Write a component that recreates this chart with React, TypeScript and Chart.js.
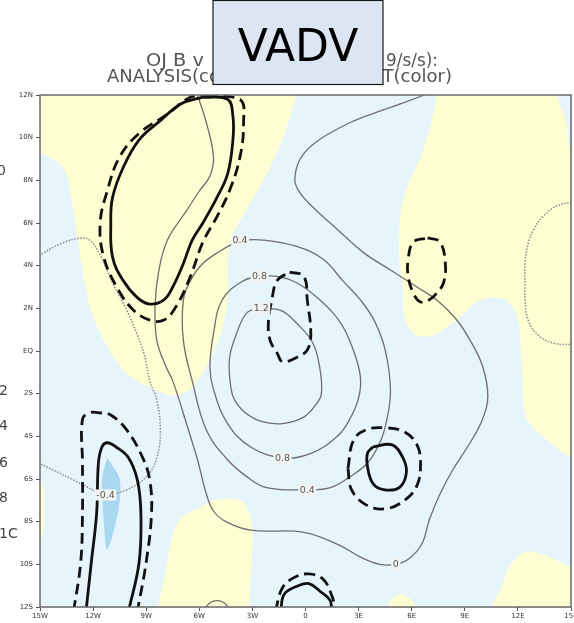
import React, { useEffect, useRef } from "react";
import { Chart, registerables } from "chart.js";
Chart.register(...registerables);

// ---------- axes ----------
const lonTicks = [-15, -12, -9, -6, -3, 0, 3, 6, 9, 12, 15];
const lonTickLabels = ["15W", "12W", "9W", "6W", "3W", "0", "3E", "6E", "9E", "12E", "15E"];
const latTicks = [-12, -10, -8, -6, -4, -2, 0, 2, 4, 6, 8, 10, 12];
const latTickLabels = ["12S", "10S", "8S", "6S", "4S", "2S", "EQ", "2N", "4N", "6N", "8N", "10N", "12N"];

// ---------- increment shading (lon, lat) ----------
const yellowNW = [[-15.5, 12.5], [-0.3, 12.5], [-0.5, 12], [-1.3, 9.9], [-2.2, 8.3], [-3.0, 7.1], [-3.7, 6.1], [-4.3, 5.0], [-4.4, 2.4], [-4.8, 0.8], [-5.4, -0.4], [-6.4, -1.7], [-7.4, -2.1], [-8.8, -1.7], [-10.2, -1.0], [-11.4, 0.5], [-12.2, 2.1], [-12.7, 4.3], [-13.0, 5.9], [-13.3, 7.5], [-13.7, 8.6], [-15, 9.3], [-15.5, 9.4]];
const yellowNE = [[7.4, 12.5], [7.4, 12], [7.1, 10.7], [6.5, 9.1], [5.9, 8.0], [5.5, 7.1], [5.3, 5.7], [5.3, 4.3], [5.5, 2.9], [5.6, 1.5], [6.2, 0.75], [7.3, 0.75], [8.6, 1.5], [9.9, 2.4], [11.3, 2.4], [12.0, 1.5], [12.2, -0.4], [12.3, -2.3], [12.5, -3.2], [13.4, -4.0], [15, -5.0], [15.5, -5.0], [15.5, 9.4], [15, 9.4], [14.7, 10.8], [14.2, 12], [14.2, 12.5]];
const yellowS = [[-8.3, -12.5], [-8.3, -12], [-7.9, -10.3], [-7.5, -8.6], [-7.0, -7.8], [-6.1, -7.4], [-5.1, -7.0], [-3.7, -7.0], [-3.1, -7.7], [-3.0, -9.1], [-3.1, -10.7], [-3.2, -12], [-3.2, -12.5]];
const yellowBump = [[4.5, -12.3], [4.9, -11.6], [5.3, -11.4], [5.9, -11.6], [6.5, -12.3]];
const yellowSE = [[10.5, -12.5], [10.5, -12], [11.0, -11.2], [11.6, -10.0], [12.5, -9.4], [13.6, -9.6], [15, -10.1], [15.5, -10.1], [15.5, -12.5]];
const yellowW = [[-15.2, -5.4], [-14.8, -6.5], [-14.75, -7.4], [-14.8, -8.4], [-15.2, -9.2]];
const blueCore = [[-11.2, -5.0], [-10.5, -6.0], [-10.6, -7.6], [-11.2, -9.3], [-11.4, -7.9], [-11.5, -6.0], [-11.2, -5.0]];

// ---------- analysis contours (lon, lat) ----------
const contour0 = [[-6.2, 12.3], [-6.1, 12], [-5.6, 10.7], [-5.2, 9.1], [-5.4, 8.2], [-6.0, 7.5], [-6.7, 6.6], [-7.8, 5.2], [-8.3, 3.7], [-8.5, 2.1], [-8.4, 0.5], [-7.9, -0.7], [-7.5, -1.4], [-6.8, -3.2], [-6.1, -5.1], [-5.6, -6.7], [-5.2, -7.5], [-4.5, -8.0], [-3.1, -8.4], [-0.1, -8.5], [1.9, -9.1], [3.2, -9.7], [4.2, -10.0], [5.1, -10.0], [5.9, -9.7], [6.6, -9.0], [7.0, -7.9], [7.6, -6.7], [8.3, -5.6], [9.3, -4.3], [10.0, -3.2], [10.3, -2.1], [10.0, -0.7], [9.3, 0.5], [8.5, 1.5], [7.4, 2.4], [6.3, 3.0], [4.8, 3.8], [3.3, 4.6], [1.8, 5.7], [0.6, 6.6], [-0.3, 7.4], [-0.6, 8.0], [-0.3, 9.0], [0.6, 9.8], [2.5, 10.7], [4.4, 11.3], [6.7, 12], [7.0, 12.2]];
const contour04 = [[-3.7, 5.2], [-2.4, 5.2], [-0.5, 4.9], [1.0, 4.3], [2.1, 3.3], [3.1, 2.4], [3.9, 1.4], [4.5, 0.05], [4.8, -1.8], [4.6, -3.2], [4.2, -4.3], [3.5, -5.25], [2.5, -5.9], [1.4, -6.4], [0.1, -6.5], [-2.2, -6.4], [-3.3, -5.9], [-4.4, -5.1], [-5.6, -3.7], [-6.4, -1.4], [-6.9, 0.5], [-6.9, 2.4], [-6.5, 3.3], [-5.8, 4.1], [-4.8, 4.7], [-3.7, 5.2]];
const contour08 = [[-2.6, 3.5], [-1.6, 3.5], [-0.5, 3.2], [0.8, 2.4], [2.0, 1.3], [2.7, 0.05], [3.1, -1.2], [3.0, -2.2], [2.5, -3.2], [1.8, -4.0], [0.3, -4.8], [-1.3, -5.0], [-3.1, -4.5], [-4.4, -3.4], [-5.2, -1.8], [-5.4, -0.75], [-5.2, 0.8], [-4.7, 2.4], [-3.5, 3.3], [-2.6, 3.5]];
const contour12 = [[-2.5, 2.0], [-1.4, 1.9], [-0.5, 1.3], [0.4, 0.4], [0.8, -0.75], [0.9, -2.0], [0.6, -2.5], [-0.1, -3.1], [-1.3, -3.4], [-2.5, -3.3], [-3.4, -2.9], [-4.0, -2.3], [-4.2, -1.8], [-4.3, -0.4], [-3.9, 0.8], [-3.3, 1.8], [-2.5, 2.0]];
const contourArc = [[-5.7, -12.1], [-5.4, -11.8], [-5.0, -11.7], [-4.6, -11.8], [-4.3, -12.1]];
const contourNeg04W = [[-15.2, 4.4], [-13.9, 5.0], [-12.7, 5.3], [-12.2, 5.2], [-11.6, 4.5], [-10.9, 3.2], [-10.1, 1.9], [-9.5, 0.75], [-9.1, -0.2], [-8.8, -1.4], [-8.4, -2.3], [-8.2, -3.7], [-8.4, -5.0], [-9.0, -5.9], [-10.1, -6.5], [-11.3, -6.75], [-11.8, -6.6], [-13.1, -6.05], [-15.2, -5.2]];
const contourNeg04E = [[15.2, 7.0], [14.2, 6.8], [13.4, 6.3], [12.9, 5.7], [12.6, 5.1], [12.4, 4.1], [12.4, 3.3], [12.4, 2.4], [12.6, 1.4], [13.2, 0.7], [14.1, 0.35], [15.2, 0.3]];

// ---------- increment contours (thick) ----------
const solidNW = [[-5.8, 11.9], [-4.4, 11.8], [-4.1, 11.0], [-4.1, 9.9], [-4.4, 8.3], [-5.0, 7.2], [-5.8, 6.0], [-6.4, 5.2], [-6.9, 4.1], [-7.5, 3.0], [-8.0, 2.4], [-8.8, 2.2], [-9.5, 2.5], [-10.3, 3.3], [-10.9, 4.4], [-11.0, 6.0], [-10.9, 7.2], [-10.3, 8.6], [-9.4, 9.9], [-8.2, 10.8], [-7.0, 11.6], [-5.8, 11.9]];
const dashedNW = [[-5.6, 12.0], [-3.7, 11.8], [-3.5, 10.7], [-3.7, 9.1], [-4.3, 7.5], [-5.0, 6.3], [-5.8, 5.1], [-6.5, 3.5], [-7.3, 2.1], [-8.0, 1.45], [-8.8, 1.45], [-9.7, 1.9], [-10.6, 2.9], [-11.4, 4.4], [-11.6, 6.0], [-11.2, 7.5], [-10.5, 9.1], [-9.4, 10.2], [-7.8, 11.1], [-6.5, 11.9], [-5.6, 12.0]];
const solidSW = [[-12.4, -12.2], [-12.1, -9.9], [-11.8, -7.6], [-11.7, -5.25], [-11.5, -4.5], [-11.2, -4.3], [-10.7, -4.5], [-10.0, -5.0], [-9.5, -6.05], [-9.3, -7.6], [-9.4, -9.9], [-10.0, -12.2]];
const dashedSW = [[-13.1, -12.2], [-12.7, -9.9], [-12.6, -7.6], [-12.6, -5.25], [-12.6, -3.2], [-12.2, -2.9], [-11.6, -2.9], [-11.0, -3.0], [-10.1, -3.7], [-9.2, -5.0], [-8.8, -6.05], [-8.7, -7.6], [-9.0, -9.9], [-9.5, -12.2]];
const dashedC = [[-0.9, 3.7], [-0.1, 3.5], [0.1, 2.4], [0.3, 0.8], [0.1, 0.05], [-0.5, -0.3], [-1.3, -0.5], [-1.6, -0.1], [-2.0, 0.5], [-2.1, 1.3], [-1.9, 2.4], [-1.6, 3.3], [-0.9, 3.7]];
const dashedE = [[6.9, 5.3], [7.6, 5.1], [7.9, 4.1], [7.8, 3.2], [7.4, 2.7], [7.0, 2.4], [6.5, 2.3], [6.1, 2.7], [5.8, 3.5], [5.8, 4.3], [6.1, 5.1], [6.9, 5.3]];
const dashedRing = [[2.4, -5.5], [2.7, -4.2], [3.4, -3.7], [4.5, -3.6], [5.6, -3.8], [6.3, -4.4], [6.5, -5.3], [6.3, -6.3], [5.6, -7.0], [4.5, -7.4], [3.4, -7.2], [2.6, -6.5], [2.4, -5.5]];
const solidRing = [[3.8, -4.5], [4.9, -4.4], [5.5, -5.0], [5.7, -5.7], [5.3, -6.4], [4.4, -6.5], [3.8, -6.2], [3.5, -5.4], [3.5, -4.8], [3.8, -4.5]];
const solidS = [[-1.4, -12.2], [-1.2, -11.4], [-0.4, -11.0], [0.2, -10.9], [0.8, -11.25], [1.4, -11.7], [1.45, -12.2]];
const dashedS = [[-1.7, -12.2], [-1.3, -11.1], [-0.6, -10.6], [0.2, -10.45], [1.0, -10.7], [1.5, -11.5], [1.7, -12.2]];

// ---------- contour labels ----------
const labelLon = [-3.7, -2.6, -2.5, -1.3, 0.1, 5.1, -11.3];
const labelLat = [5.2, 3.5, 2.0, -5.0, -6.5, -10.0, -6.75];
const labelText = ["0.4", "0.8", "1.2", "0.8", "0.4", "0", "-0.4"];

const YELLOW = "#FFFED2";
const LIGHTBLUE = "#E6F4FB";
const DARKBLUE = "#A9D9F2";

const pts = (a: number[][]) => a.map(([x, y]) => ({ x, y }));

function fillSet(a: number[][], color: string) {
  return {
    data: pts(a),
    backgroundColor: color,
    borderColor: "transparent",
    borderWidth: 0,
    fill: "shape",
    pointRadius: 0,
    tension: 0.3,
    order: 10,
  };
}
function lineSet(a: number[][], color: string, width: number, dash: number[], order: number) {
  return {
    data: pts(a),
    borderColor: color,
    borderWidth: width,
    borderDash: dash,
    fill: false,
    pointRadius: 0,
    tension: 0.4,
    order,
  };
}

const bgPlugin = {
  id: "bg",
  beforeDatasetsDraw(chart: any) {
    const { ctx, chartArea: a } = chart;
    ctx.save();
    ctx.fillStyle = LIGHTBLUE;
    ctx.fillRect(a.left, a.top, a.right - a.left, a.bottom - a.top);
    ctx.restore();
  },
};

const overlayPlugin = {
  id: "overlay",
  afterDraw(chart: any) {
    const { ctx, chartArea: a, scales } = chart;
    ctx.save();
    ctx.font = "9.5px 'DejaVu Sans'";
    ctx.textAlign = "center";
    ctx.textBaseline = "middle";
    for (let i = 0; i < labelText.length; i++) {
      const px = scales.x.getPixelForValue(labelLon[i]);
      const py = scales.y.getPixelForValue(labelLat[i]);
      const w = ctx.measureText(labelText[i]).width + 3;
      ctx.fillStyle = "#f3f3f1";
      ctx.fillRect(px - w / 2, py - 5.5, w, 11);
      ctx.fillStyle = "#555";
      ctx.fillText(labelText[i], px, py + 0.5);
    }
    ctx.strokeStyle = "#6a6a6a";
    ctx.lineWidth = 1.5;
    ctx.strokeRect(a.left, a.top, a.right - a.left, a.bottom - a.top);
    ctx.restore();
  },
};

export default function App() {
  const ref = useRef<HTMLCanvasElement | null>(null);
  useEffect(() => {
    if (!ref.current) return;
    const datasets: any[] = [
      fillSet(yellowNW, YELLOW),
      fillSet(yellowNE, YELLOW),
      fillSet(yellowS, YELLOW),
      fillSet(yellowBump, YELLOW),
      fillSet(yellowSE, YELLOW),
      fillSet(yellowW, YELLOW),
      { ...fillSet(blueCore, DARKBLUE), order: 9 },
      lineSet(contour0, "#6e6e6e", 1.3, [], 5),
      lineSet(contour04, "#6e6e6e", 1.3, [], 5),
      lineSet(contour08, "#6e6e6e", 1.3, [], 5),
      lineSet(contour12, "#6e6e6e", 1.3, [], 5),
      lineSet(contourArc, "#6e6e6e", 1.3, [], 5),
      lineSet(contourNeg04W, "#8a8a8a", 1.5, [1.5, 1.5], 5),
      lineSet(contourNeg04E, "#8a8a8a", 1.5, [1.5, 1.5], 5),
      lineSet(solidNW, "#111", 2.8, [], 1),
      lineSet(dashedNW, "#111", 2.8, [11, 6], 1),
      lineSet(solidSW, "#111", 2.8, [], 1),
      lineSet(dashedSW, "#111", 2.8, [11, 6], 1),
      lineSet(dashedC, "#111", 2.8, [11, 6], 1),
      lineSet(dashedE, "#111", 2.8, [11, 6], 1),
      lineSet(dashedRing, "#111", 2.8, [11, 6], 1),
      lineSet(solidRing, "#111", 2.8, [], 1),
      lineSet(solidS, "#111", 2.8, [], 1),
      lineSet(dashedS, "#111", 2.8, [11, 6], 1),
    ];
    const tickFont = { family: "'DejaVu Sans'", size: 7 };
    const chart = new Chart(ref.current, {
      type: "line",
      data: { datasets },
      options: {
        responsive: false,
        animation: false,
        events: [],
        layout: { padding: { top: 95, right: 3, left: 0, bottom: 0 } },
        plugins: { legend: { display: false }, tooltip: { enabled: false }, title: { display: false } },
        scales: {
          x: {
            type: "linear",
            min: -15,
            max: 15,
            z: 1,
            afterFit(s: any) {
              s.height = 16;
              s.paddingLeft = 0;
              s.paddingRight = 0;
            },
            ticks: {
              stepSize: 3,
              autoSkip: false,
              maxRotation: 0,
              padding: 1,
              color: "#333",
              font: tickFont,
              callback: (v: any) => lonTickLabels[lonTicks.indexOf(Number(v))] ?? "",
            },
            grid: { color: "#a8a8a8", lineWidth: 1, tickLength: 4, tickColor: "#555", tickBorderDash: [] },
            border: { display: false, dash: [1.2, 3] },
          },
          y: {
            type: "linear",
            min: -12,
            max: 12,
            z: 1,
            afterFit(s: any) {
              s.width = 40;
              s.paddingTop = 0;
              s.paddingBottom = 0;
            },
            ticks: {
              stepSize: 2,
              autoSkip: false,
              padding: 3,
              color: "#333",
              font: tickFont,
              callback: (v: any) => latTickLabels[latTicks.indexOf(Number(v))] ?? "",
            },
            grid: { color: "#a8a8a8", lineWidth: 1, tickLength: 4, tickColor: "#555", tickBorderDash: [] },
            border: { display: false, dash: [1.2, 3] },
          },
        },
      },
      plugins: [bgPlugin, overlayPlugin],
    } as any);
    return () => chart.destroy();
  }, []);

  const side = { fontFamily: "DejaVu Sans", fontSize: 14, fill: "#444" } as any;
  return (
    <div style={{ position: "fixed", left: 0, top: 0, width: 574, height: 623, background: "#fff" }}>
      <canvas ref={ref} width={574} height={623} style={{ position: "absolute", left: 0, top: 0, width: 574, height: 623 }} />
      <svg width={574} height={623} style={{ position: "absolute", left: 0, top: 0, pointerEvents: "none" }}>
        <text x={146} y={66} fontFamily="DejaVu Sans" fontSize={17} fill="#555" textLength={58} lengthAdjust="spacingAndGlyphs">OJ B v</text>
        <text x={386} y={66} fontFamily="DejaVu Sans" fontSize={17} fill="#555" textLength={52} lengthAdjust="spacingAndGlyphs">9/s/s):</text>
        <text x={107} y={82} fontFamily="DejaVu Sans" fontSize={17} fill="#555" textLength={345} lengthAdjust="spacingAndGlyphs">ANALYSIS(contour), INCREMENT(color)</text>
        <rect x={213} y={0.5} width={170} height={84} fill="#DCE6F2" stroke="#1a1a1a" strokeWidth={1.2} />
        <text x={298} y={61} textAnchor="middle" fontFamily="DejaVu Sans" fontSize={44} fill="#000">VADV</text>
        <text x={-3} y={175} {...side}>0</text>
        <text x={-1} y={395} {...side}>2</text>
        <text x={-1} y={430} {...side}>4</text>
        <text x={-1} y={467} {...side}>6</text>
        <text x={-1} y={502} {...side}>8</text>
        <text x={-1} y={538} {...side}>1C</text>
      </svg>
    </div>
  );
}
